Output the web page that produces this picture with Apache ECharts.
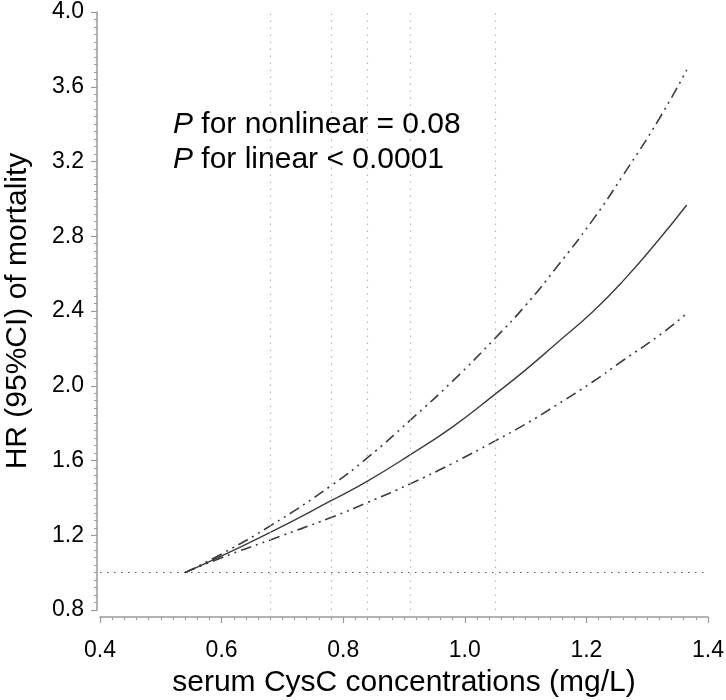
<!DOCTYPE html>
<html>
<head>
<meta charset="utf-8">
<script src="https://cdn.jsdelivr.net/npm/echarts@6/dist/echarts.min.js"></script>
<style>
  html, body { margin: 0; padding: 0; background: #fff; }
  #main { width: 726px; height: 700px; }
</style>
</head>
<body>
<div id="main"></div>
<script>
// serum CysC (mg/L) and hazard ratios
const cysC     = [0.54, 0.60, 0.68, 0.78, 0.84, 0.91, 0.98, 1.05, 1.10, 1.15, 1.21, 1.26, 1.32, 1.365];
const hr       = [1.00, 1.09, 1.215, 1.385, 1.49, 1.63, 1.78, 1.955, 2.085, 2.225, 2.395, 2.56, 2.785, 2.967];
const hrUpper  = [1.00, 1.10, 1.25, 1.465, 1.615, 1.815, 2.025, 2.255, 2.43, 2.63, 2.885, 3.125, 3.43, 3.69];
const hrLower  = [1.00, 1.08, 1.175, 1.295, 1.375, 1.475, 1.585, 1.705, 1.795, 1.895, 2.02, 2.135, 2.27, 2.387];
const refCuts  = [0.68, 0.78, 0.84, 0.91, 1.05];
const refHR    = 1;
const pNonlinear = '0.08';
const pLinear    = '0.0001';

const font = 'Liberation Sans, Arial, sans-serif';
const axisGray = '#9a9a9a';
const curveColor = '#3c3c3c';
const ciDash = [11, 5, 2, 5, 2, 5];

function pairs(ys) {
  return cysC.map((x, i) => [x, ys[i]]);
}

let option = {
  animation: false,
  grid: { left: 100, right: 18, top: 12, bottom: 90, outerBoundsMode: 'none', containLabel: false },
  xAxis: {
    type: 'value',
    min: 0.4, max: 1.4, interval: 0.2,
    offset: 7,
    name: 'serum CysC concentrations (mg/L)',
    nameLocation: 'middle',
    nameGap: 51,
    nameTextStyle: { fontFamily: font, fontSize: 30, color: '#000' },
    axisLine: { lineStyle: { color: axisGray, width: 1.5 } },
    axisTick: { show: true, length: 6, lineStyle: { color: axisGray, width: 1.2 } },
    minorTick: { show: true, splitNumber: 10, length: 3, lineStyle: { color: axisGray, width: 1 } },
    splitLine: { show: false },
    axisLabel: {
      fontFamily: font, fontSize: 23, color: '#000', margin: 22,
      formatter: v => v.toFixed(1)
    }
  },
  yAxis: {
    type: 'value',
    min: 0.8, max: 4.0, interval: 0.4,
    offset: 3,
    name: 'HR (95%CI) of mortality',
    nameLocation: 'middle',
    nameGap: 64,
    nameTextStyle: { fontFamily: font, fontSize: 30, color: '#000' },
    axisLine: { show: true, lineStyle: { color: axisGray, width: 1.5 } },
    axisTick: { show: true, length: 6, lineStyle: { color: axisGray, width: 1.2 } },
    minorTick: { show: true, splitNumber: 10, length: 3, lineStyle: { color: axisGray, width: 1 } },
    splitLine: { show: false },
    axisLabel: {
      fontFamily: font, fontSize: 23, color: '#000', margin: 13,
      formatter: v => v.toFixed(1)
    }
  },
  graphic: [
    {
      type: 'text', left: 173, top: 107,
      style: {
        text: '{i|P} for nonlinear = ' + pNonlinear + '\n{i|P} for linear < ' + pLinear,
        font: '30px ' + font,
        fill: '#000',
        lineHeight: 35,
        rich: { i: { fontStyle: 'italic', fontSize: 30, fontFamily: font, lineHeight: 35 } }
      }
    }
  ],
  series: [
    {
      name: 'reference',
      type: 'line',
      data: [],
      silent: true,
      markLine: {
        silent: true,
        symbol: 'none',
        label: { show: false },
        data: refCuts.map(x => ({ xAxis: x, lineStyle: { color: '#b8b8b8', type: [1.5, 5.5], width: 1.2 } }))
          .concat([{ yAxis: refHR, lineStyle: { color: '#555', type: [1.5, 5.5], width: 1.2 } }])
      }
    },
    {
      name: 'HR', type: 'line', data: pairs(hr), smooth: true,
      symbol: 'none', lineStyle: { color: curveColor, width: 1.4 }
    },
    {
      name: 'upper', type: 'line', data: pairs(hrUpper), smooth: true,
      symbol: 'none', lineStyle: { color: curveColor, width: 1.6, type: ciDash }
    },
    {
      name: 'lower', type: 'line', data: pairs(hrLower), smooth: true,
      symbol: 'none', lineStyle: { color: curveColor, width: 1.6, type: ciDash }
    }
  ]
};

let myChart = echarts.init(document.getElementById('main'));
myChart.setOption(option);
</script>
</body>
</html>
